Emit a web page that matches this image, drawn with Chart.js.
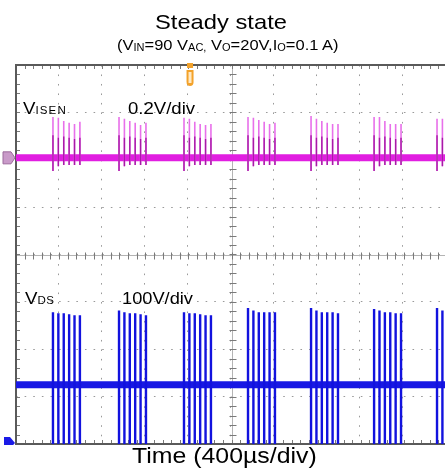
<!DOCTYPE html>
<html><head><meta charset="utf-8">
<script src="https://cdn.jsdelivr.net/npm/chart.js@4/dist/chart.umd.min.js"></script>
<style>
html,body{margin:0;padding:0;background:#fff;}
#wrap{position:relative;width:445px;height:474px;overflow:hidden;background:#fff;}
#c{position:absolute;left:0;top:0;}
.t{position:absolute;white-space:nowrap;font-family:'Liberation Sans',Arial,sans-serif;color:#000;transform-origin:left top;}
.s{position:relative;}
</style>
</head><body>
<div id="wrap">
<canvas id="c" width="445" height="474"></canvas>
<div class="t" style="left:155px;top:10.5px;font-size:21px;line-height:21px;transform:scaleX(1.13)">Steady state</div>
<div class="t" style="left:117px;top:37.3px;font-size:15px;line-height:15px;transform:scaleX(1.1)">(V<span class="s" style="font-size:10px;top:1px">IN</span>=90 V<span class="s" style="font-size:10px;top:1px">AC,</span> V<span class="s" style="font-size:10px;top:1px">O</span>=20V,I<span class="s" style="font-size:10px;top:1px">O</span>=0.1 A)</div>
<div class="t" style="left:23px;top:99.6px;font-size:17px;line-height:17px;transform:scaleX(1.1)">V<span style="font-size:10.5px;letter-spacing:1px">ISEN</span></div>
<div class="t" style="left:128px;top:100.5px;font-size:16px;line-height:16px;transform:scaleX(1.16)">0.2V/div</div>
<div class="t" style="left:25px;top:289.6px;font-size:17px;line-height:17px;transform:scaleX(1.1)">V<span style="font-size:10.5px;letter-spacing:0.5px">DS</span></div>
<div class="t" style="left:122px;top:290.5px;font-size:16px;line-height:16px;transform:scaleX(1.14)">100V/div</div>
<div class="t" style="left:132px;top:445.4px;font-size:22px;line-height:22px;transform:scaleX(1.13)">Time (400µs/div)</div>
</div>
<script>
// ---- data ----
const timePerDivUs = 400;          // horizontal: 400 µs/div
const xVisibleMaxUs = 3981;        // right edge of the screen is cropped
const gridDivsY = [-4, 4];         // 8 vertical divisions
const triggerUs = 1615;            // trigger marker position
const burstStartUs = [343, 956, 1559, 2153, 2738, 3323, 3907];
const pulseOffsetUs = [0, 50, 100, 150, 200, 250];

// V_ISEN channel, 0.2 V/div
const isenRangeV = [-1.208, 0.392];
const isenBaseV = 0.0;
const isenPeakV = [
  [0.173, 0.169, 0.156, 0.148, 0.143, 0.152],
  [0.173, 0.165, 0.156, 0.148, 0.139, 0.148],
  [0.169, 0.165, 0.152, 0.143, 0.139, 0.143],
  [0.173, 0.169, 0.160, 0.152, 0.143, 0.148],
  [0.177, 0.165, 0.156, 0.148, 0.143, 0.143],
  [0.173, 0.173, 0.156, 0.143, 0.143, 0.143],
  [0.165, 0.165, 0.156, 0.148, 0.143, 0.148]
];
const isenCoreV = [0.095, 0.085, 0.090, 0.085, 0.080, 0.085];
const isenDipV = [-0.055, -0.035, -0.030, -0.030, -0.030, -0.030];

// V_DS channel, 100 V/div
const vdsRangeV = [-4, 796];
const vdsBaseV = 121;
const vdsValleyV = -5;
const vdsPeakV = [
  [274, 272, 272, 270, 268, 268],
  [278, 274, 272, 272, 270, 268],
  [274, 272, 272, 270, 268, 268],
  [283, 278, 274, 274, 274, 274],
  [283, 278, 274, 274, 274, 272],
  [281, 278, 274, 274, 272, 272],
  [283, 278, 274, 274, 274, 272]
];

// ---- build line datasets (vertical pulse segments separated by gaps) ----
function pulses(lowFn, highFn) {
  const pts = [];
  burstStartUs.forEach((t0, b) => {
    pulseOffsetUs.forEach((dt, k) => {
      const t = t0 + dt;
      pts.push({x: t, y: lowFn(b, k)}, {x: t, y: highFn(b, k)}, {x: t, y: null});
    });
  });
  return pts;
}
const common = {pointRadius: 0, tension: 0, spanGaps: false, borderCapStyle: 'butt', fill: false};

const datasets = [
  Object.assign({label: 'VISEN base', yAxisID: 'yI', order: 5, borderColor: '#e11ee1', borderWidth: 7,
    data: [{x: 0, y: isenBaseV}, {x: xVisibleMaxUs, y: isenBaseV}]}, common),
  Object.assign({label: 'VISEN pulses', yAxisID: 'yI', order: 4, borderColor: '#e870ea', borderWidth: 1.6,
    data: pulses((b, k) => isenDipV[k], (b, k) => isenPeakV[b][k])}, common),
  Object.assign({label: 'VISEN core', yAxisID: 'yI', order: 3, borderColor: '#a81aa6', borderWidth: 1.4,
    data: pulses((b, k) => isenDipV[k], (b, k) => isenCoreV[k])}, common),
  Object.assign({label: 'VDS base', yAxisID: 'yV', order: 2, borderColor: '#1818e4', borderWidth: 7,
    data: [{x: 0, y: vdsBaseV}, {x: xVisibleMaxUs, y: vdsBaseV}]}, common),
  Object.assign({label: 'VDS pulses', yAxisID: 'yV', order: 1, borderColor: '#1212de', borderWidth: 2.4,
    data: pulses(() => vdsValleyV, (b, k) => vdsPeakV[b][k])}, common)
];

function seg(ctx, x1, y1, x2, y2) { ctx.beginPath(); ctx.moveTo(x1, y1); ctx.lineTo(x2, y2); ctx.stroke(); }

const scopeDecor = {
  id: 'scopeDecor',
  beforeDatasetsDraw(chart) {
    const {ctx, chartArea: a, scales} = chart;
    const xs = scales.x, yg = scales.y;
    ctx.save();
    const cx = Math.round(xs.getPixelForValue(5 * timePerDivUs)) + 0.5;
    const cy = Math.round(yg.getPixelForValue(0)) + 0.5;
    ctx.lineWidth = 1;
    ctx.strokeStyle = '#b4b4b4';
    seg(ctx, a.left, cy, a.right, cy);
    seg(ctx, cx, a.top, cx, a.bottom);
    ctx.strokeStyle = '#7a7a7a';
    for (let v = 0; v <= xVisibleMaxUs; v += timePerDivUs / 5) {
      const px = Math.round(xs.getPixelForValue(v)) + 0.5;
      seg(ctx, px, cy - 3, px, cy + 4);
      seg(ctx, px, a.top, px, a.top + 4);
      seg(ctx, px, a.bottom - 4, px, a.bottom);
    }
    for (let v = gridDivsY[0]; v <= gridDivsY[1] + 1e-9; v += 0.2) {
      const py = Math.round(yg.getPixelForValue(v)) + 0.5;
      seg(ctx, cx - 3, py, cx + 4, py);
      seg(ctx, a.left, py, a.left + 4, py);
    }
    ctx.strokeStyle = '#5a5a5a';
    ctx.lineWidth = 2;
    seg(ctx, a.left - 1, a.top, a.right, a.top);
    seg(ctx, a.left, a.top, a.left, a.bottom);
    seg(ctx, a.left - 1, a.bottom, a.right, a.bottom);
    ctx.restore();
  },
  afterDatasetsDraw(chart) {
    const {ctx, chartArea: a, scales} = chart;
    ctx.save();
    // channel ground markers
    const yI = scales.yI.getPixelForValue(0);
    ctx.fillStyle = '#c99ac9'; ctx.strokeStyle = '#9c6a9c'; ctx.lineWidth = 1;
    ctx.beginPath();
    ctx.moveTo(3, yI - 6); ctx.lineTo(11, yI - 6); ctx.lineTo(15, yI); ctx.lineTo(11, yI + 6); ctx.lineTo(3, yI + 6); ctx.closePath();
    ctx.fill(); ctx.stroke();
    const yV = scales.yV.getPixelForValue(0);
    ctx.save();
    ctx.beginPath(); ctx.rect(0, 0, 445, a.bottom + 1); ctx.clip();
    ctx.fillStyle = '#1a1ae6';
    ctx.beginPath();
    ctx.moveTo(4, yV - 5); ctx.lineTo(10, yV - 5); ctx.lineTo(15, yV + 1); ctx.lineTo(10, yV + 6); ctx.lineTo(4, yV + 6); ctx.closePath();
    ctx.fill();
    ctx.restore();
    // trigger marker
    const tx = scales.x.getPixelForValue(triggerUs);
    ctx.fillStyle = '#f3a22a';
    ctx.fillRect(tx - 3, a.top - 2, 6, 5);
    ctx.beginPath();
    ctx.moveTo(tx - 3.5, a.top + 5); ctx.lineTo(tx + 3.5, a.top + 5); ctx.lineTo(tx + 3.5, a.top + 17);
    ctx.quadraticCurveTo(tx + 3.5, a.top + 21, tx, a.top + 21);
    ctx.quadraticCurveTo(tx - 3.5, a.top + 21, tx - 3.5, a.top + 17);
    ctx.closePath(); ctx.fill();
    ctx.fillStyle = '#ffe9c4';
    ctx.fillRect(tx - 1.5, a.top + 7, 3, 11);
    ctx.restore();
  }
};

new Chart(document.getElementById('c'), {
  type: 'line',
  data: {datasets},
  options: {
    responsive: false,
    animation: false,
    events: [],
    parsing: true,
    layout: {padding: {left: 16, top: 65, right: 0, bottom: 30}, autoPadding: false},
    plugins: {legend: {display: false}, title: {display: false}, tooltip: {enabled: false}},
    scales: {
      x: {type: 'linear', min: 0, max: xVisibleMaxUs,
        ticks: {display: false, stepSize: timePerDivUs},
        grid: {color: '#9a9a9a', lineWidth: 1, drawTicks: false},
        border: {display: false, dash: [1.6, 7.88]}},
      y: {type: 'linear', min: gridDivsY[0], max: gridDivsY[1], position: 'left',
        ticks: {display: false, stepSize: 1},
        grid: {color: '#9a9a9a', lineWidth: 1, drawTicks: false},
        border: {display: false, dash: [1.6, 7.02]}},
      yI: {type: 'linear', display: false, min: isenRangeV[0], max: isenRangeV[1]},
      yV: {type: 'linear', display: false, min: vdsRangeV[0], max: vdsRangeV[1]}
    }
  },
  plugins: [scopeDecor]
});
</script>
</body></html>
